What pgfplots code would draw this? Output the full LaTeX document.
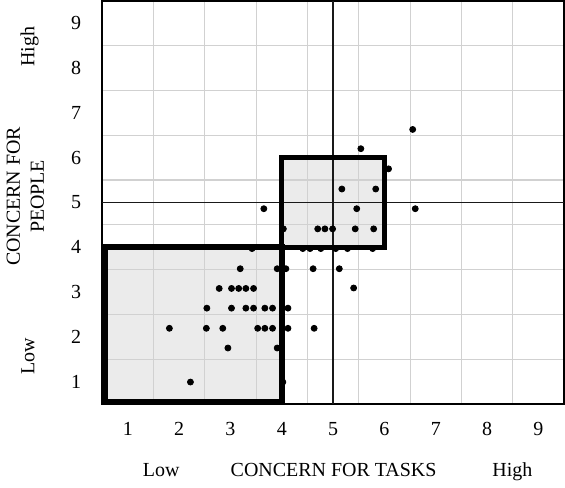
\documentclass[border=0pt]{standalone}
\usepackage{fontspec}
\setmainfont{Liberation Serif}
\usepackage{pgfplots}
\pgfplotsset{compat=1.18}
\definecolor{boxfill}{HTML}{EBEBEB}
\begin{document}
\begin{tikzpicture}
\begin{axis}[set layers,
  scale only axis,width=231.5pt,height=202pt,
  xmin=0.5,xmax=9.5,ymin=0.5,ymax=9.5,
  xtick={1,...,9},ytick={1,...,9},
  minor xtick={1.5,2.5,3.5,4.5,5.5,6.5,7.5,8.5},
  minor ytick={1.5,2.5,3.5,4.5,5.5,6.5,7.5,8.5},
  grid=minor,minor grid style={black!18,line width=0.6pt},
  major tick length=0pt,minor tick length=0pt,
  axis line style={black,line width=0.9pt},
  /pgf/number format/assume math mode=true,
  tick label style={font=\normalsize},
  xticklabel style={yshift=-5.5pt},
  yticklabel style={xshift=-7pt},
  clip=false]
% shaded boxes
\addplot[on layer=axis background,draw=none,fill=boxfill] coordinates {(0.55,0.55) (4,0.55) (4,4) (0.55,4)} --cycle;
\addplot[on layer=axis background,draw=none,fill=boxfill] coordinates {(4,4) (6,4) (6,6) (4,6)} --cycle;
% mid lines
\addplot[black!90,line width=0.85pt] coordinates {(5,0.5) (5,9.5)};
\addplot[black!90,line width=0.85pt] coordinates {(0.5,5) (9.5,5)};
% box outlines
\addplot[black,line width=3pt,line join=miter] coordinates {(0.55,0.55) (4,0.55) (4,4) (0.55,4)} --cycle;
\addplot[black,line width=2.7pt,line join=miter] coordinates {(4,4) (6,4) (6,6) (4,6)} --cycle;
% respondents
\addplot[only marks,mark=*,mark size=1.5pt,black] coordinates {
(3.19,3.52) (3.91,3.52) (4.08,3.52) (4.61,3.52) (5.12,3.52)
(2.78,3.08) (3.02,3.08) (3.16,3.08) (3.30,3.08) (3.45,3.08) (5.40,3.09)
(2.54,2.64) (3.02,2.64) (3.30,2.64) (3.45,2.64) (3.67,2.64) (3.82,2.64) (4.12,2.64)
(1.81,2.19) (2.53,2.19) (2.85,2.19) (3.53,2.19) (3.67,2.19) (3.82,2.19) (4.12,2.19) (4.63,2.19)
(2.95,1.75) (3.91,1.75)
(2.22,0.99) (4.02,0.99)
(3.42,3.97) (4.41,3.97) (4.55,3.97) (4.76,3.97) (5.05,3.97) (5.28,3.97) (5.77,3.97)
(4.03,4.41) (4.70,4.41) (4.84,4.41) (4.99,4.41) (5.43,4.41) (5.79,4.41)
(3.65,4.86) (5.46,4.86) (6.60,4.86)
(5.17,5.30) (5.83,5.30)
(6.08,5.75) (5.54,6.20) (6.55,6.63)};
% axis captions
\node[anchor=base] at (rel axis cs:0.128,0) [yshift=-36.5pt] {Low};
\node[anchor=base] at (rel axis cs:0.501,0) [yshift=-36.5pt] {CONCERN FOR TASKS};
\node[anchor=base] at (rel axis cs:0.888,0) [yshift=-36.5pt] {High};
\node[anchor=base,xshift=-34pt,rotate=90] at (rel axis cs:0,0.119) {Low};
\node[xshift=-38.5pt,rotate=90,align=center] at (rel axis cs:0,0.515) {CONCERN FOR\\PEOPLE};
\node[anchor=base,xshift=-34pt,rotate=90] at (rel axis cs:0,0.886) {High};
\end{axis}
\end{tikzpicture}
\end{document}
